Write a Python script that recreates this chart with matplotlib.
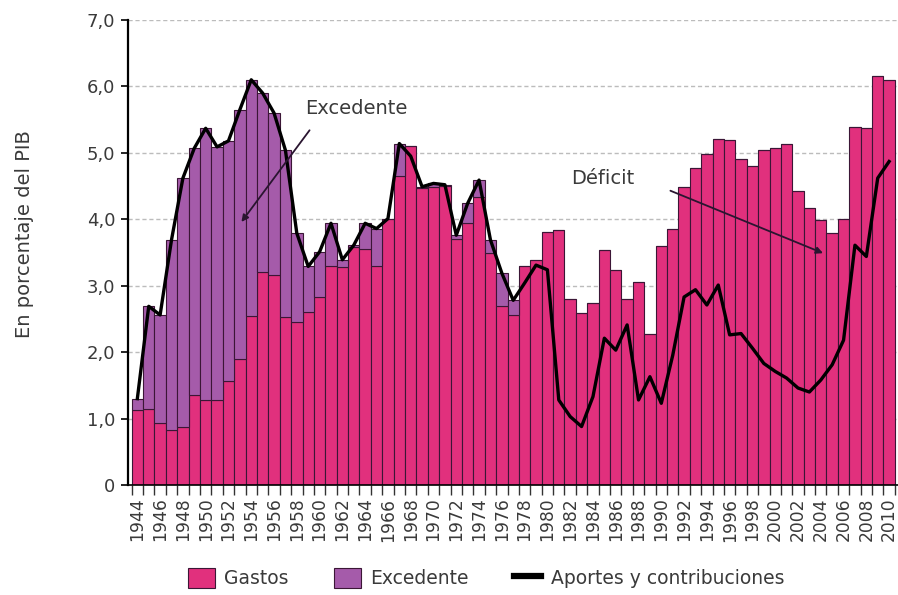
import numpy as np
import matplotlib
matplotlib.use("Agg")
import matplotlib.pyplot as plt
from matplotlib.patches import Patch
from matplotlib.lines import Line2D
from matplotlib.ticker import FixedLocator, FuncFormatter

# %% Data (percent of GDP)
years = np.arange(1944, 2011)

gastos = [
    1.13, 1.15, 0.93, 0.83, 0.88, 1.35, 1.28, 1.28, 1.56, 1.89,   # 1944-1953
    2.54, 3.21, 3.16, 2.53, 2.46, 2.61, 2.83, 3.30, 3.28, 3.59,   # 1954-1963
    3.56, 3.30, 4.00, 4.65, 5.10, 4.47, 4.49, 4.50, 3.71, 3.94,   # 1964-1973
    4.34, 3.49, 2.69, 2.56, 3.29, 3.39, 3.81, 3.84, 2.80, 2.59,   # 1974-1983
    2.74, 3.54, 3.23, 2.80, 3.05, 2.28, 3.60, 3.85, 4.49, 4.77,   # 1984-1993
    4.98, 5.21, 5.19, 4.90, 4.80, 5.05, 5.07, 5.13, 4.43, 4.17,   # 1994-2003
    3.99, 3.79, 4.00, 5.39, 5.37, 6.16, 6.10,                     # 2004-2010
]

aportes = [
    1.30, 2.69, 2.56, 3.69, 4.62, 5.07, 5.37, 5.09, 5.18, 5.65,   # 1944-1953
    6.10, 5.90, 5.60, 5.04, 3.79, 3.29, 3.51, 3.94, 3.39, 3.61,   # 1954-1963
    3.94, 3.86, 4.01, 5.14, 4.95, 4.49, 4.54, 4.52, 3.76, 4.24,   # 1964-1973
    4.59, 3.69, 3.19, 2.78, 3.04, 3.31, 3.24, 1.28, 1.03, 0.88,   # 1974-1983
    1.33, 2.21, 2.03, 2.41, 1.28, 1.63, 1.23, 1.95, 2.83, 2.94,   # 1984-1993
    2.71, 3.01, 2.26, 2.28, 2.06, 1.83, 1.71, 1.61, 1.46, 1.40,   # 1994-2003
    1.58, 1.81, 2.18, 3.61, 3.44, 4.62, 4.87,                     # 2004-2010
]

gastos = np.array(gastos)
aportes = np.array(aportes)
excedente = np.clip(aportes - gastos, 0, None)  # surplus stacked on top of spending

y_ticks = [0, 1, 2, 3, 4, 5, 6, 7]
label_years = years[::2]

# %% Style
PINK = "#E1307D"
PURPLE = "#A55BAA"
EDGE = "#3b1636"
TXT = "#3a3a3a"
plt.rcParams["font.family"] = ["DejaVu Sans"]

fig = plt.figure(figsize=(8.98, 5.95), dpi=100)
ax = fig.add_axes([128 / 898, 110 / 595, 770 / 898, 465 / 595])

for yv in y_ticks[1:]:
    ax.axhline(yv, color="#bcbcbc", lw=1.0, ls=(0, (3, 2)), zorder=0)

ax.bar(years, gastos, width=1.0, color=PINK, edgecolor=EDGE, linewidth=0.8, zorder=2)
ax.bar(years, excedente, bottom=gastos, width=1.0, color=PURPLE, edgecolor=EDGE,
       linewidth=0.8, zorder=2)
ax.plot(years, aportes, color="black", lw=2.4, zorder=3, solid_joinstyle="round")

ax.set_xlim(1943.18, 2010.78)
ax.set_ylim(0, 7)

# axes styling
for s in ("top", "right"):
    ax.spines[s].set_visible(False)
ax.spines["left"].set_linewidth(1.6)
ax.spines["bottom"].set_linewidth(1.2)
ax.spines["left"].set_zorder(4)

ax.set_yticks(y_ticks)
ax.yaxis.set_major_formatter(FuncFormatter(
    lambda v, p: "0" if v == 0 else f"{v:.1f}".replace(".", ",")))
ax.tick_params(axis="y", direction="out", length=5, width=1.2, labelsize=13,
               labelcolor=TXT, pad=4)

ax.xaxis.set_major_locator(FixedLocator(label_years))
ax.xaxis.set_minor_locator(FixedLocator(np.arange(1943.5, 2011, 1.0)))
ax.set_xticklabels([str(y) for y in label_years], rotation=90)
ax.tick_params(axis="x", which="major", length=0, labelsize=12.3, labelcolor=TXT, pad=9)
ax.tick_params(axis="x", which="minor", length=7, width=1.0, color="#333333")

ax.set_ylabel("En porcentaje del PIB", fontsize=14, color=TXT)
ax.yaxis.set_label_coords(-0.122, 0.54)

# %% Annotations
arrow = dict(arrowstyle="-|>", color="#2a1530", lw=1.3, mutation_scale=10,
             shrinkA=0, shrinkB=0)
ax.text(1958.7, 5.67, "Excedente", fontsize=14, color=TXT, ha="left", va="center")
ax.annotate("", xy=(1953.14, 3.96), xytext=(1959.12, 5.34), arrowprops=arrow)
ax.text(1982.1, 4.62, "Déficit", fontsize=14, color=TXT, ha="left", va="center")
ax.annotate("", xy=(2004.2, 3.49), xytext=(1990.8, 4.43), arrowprops=arrow)

# %% Legend
handles = [
    Patch(facecolor=PINK, edgecolor=EDGE, linewidth=0.8, label="Gastos"),
    Patch(facecolor=PURPLE, edgecolor=EDGE, linewidth=0.8, label="Excedente"),
    Line2D([0], [0], color="black", lw=4.5, label="Aportes y contribuciones"),
]
fig.legend(handles=handles, loc="center", bbox_to_anchor=(486 / 898, 17 / 595),
           ncol=3, frameon=False, fontsize=13.5, labelcolor=TXT, handlelength=1.45,
           handleheight=1.3, handletextpad=0.5, columnspacing=2.4)

fig.savefig("out.png", dpi=100)
